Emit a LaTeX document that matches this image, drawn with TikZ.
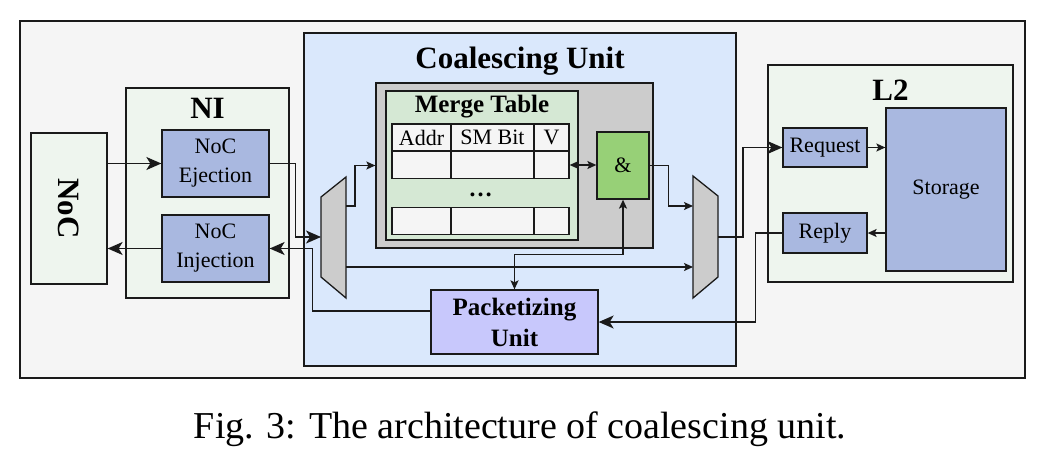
\documentclass[tikz,border=0pt]{standalone}
\usepackage{fontspec}
\setmainfont{Liberation Serif}
\usepackage{xcolor}
\usetikzlibrary{arrows.meta, positioning, shapes.geometric}

\definecolor{bgGray}{HTML}{F5F5F5}
\definecolor{coalBlue}{HTML}{DAE8FC}
\definecolor{grpGreen}{HTML}{EEF5EE}
\definecolor{blkBlue}{HTML}{A9B8E0}
\definecolor{tblGreen}{HTML}{D5E8D4}
\definecolor{ampGreen}{HTML}{97D077}
\definecolor{packViolet}{HTML}{C8C8FC}
\definecolor{muxGray}{HTML}{CCCCCC}
\definecolor{lineDark}{HTML}{1A1A1A}

\newcommand{\txtnorm}{\fontsize{22}{29}\selectfont}
\newcommand{\txttitle}{\fontsize{31}{36}\selectfont\bfseries}

\begin{document}
\begin{tikzpicture}[
    x=1pt, y=-1pt,
    frame/.style={rectangle, draw=lineDark, line width=1.3pt, inner sep=0pt},
    group/.style={frame, fill=grpGreen},
    block/.style={frame, fill=blkBlue, align=center, font=\txtnorm},
    cell/.style={frame, fill=bgGray, minimum height=27pt, font=\txtnorm},
    title/.style={font=\txttitle, inner sep=0pt},
    big/.style={-{Stealth[length=15pt,width=13pt,inset=4pt]}, line width=1.4pt, draw=lineDark},
    small/.style={-{Stealth[length=9pt,width=8pt,inset=2pt]}, line width=1.4pt, draw=lineDark},
    bismall/.style={{Stealth[length=9pt,width=8pt,inset=2pt]}-{Stealth[length=9pt,width=8pt,inset=2pt]}, line width=1.4pt, draw=lineDark}
]
\useasboundingbox (0,0) rectangle (1040,455);

% Frames
\node[frame, fill=bgGray, minimum width=1005, minimum height=357] (outer) at (522.5,199.5) {};
\node[frame, fill=coalBlue, minimum width=432, minimum height=333] (coal) at (520,199.5) {};
\node[group, minimum width=163, minimum height=210] (ni) at (207.5,193) {};
\node[group, minimum width=76, minimum height=151] (noc) at (69,208.5) {};
\node[group, minimum width=245, minimum height=217] (l2) at (890.5,173.5) {};

% Titles
\node[title] at (207.5,108) {NI};
\node[title] at (520,61) {Coalescing Unit};
\node[title] at (890.5,90) {L2};
\node[title, rotate=-90] at (noc) {NoC};

% NI blocks
\node[block, minimum width=107, minimum height=67] (ej) at (215.5,163.5) {NoC\\Ejection};
\node[block, minimum width=107, minimum height=67] (inj) at (215.5,248.5) {NoC\\Injection};

% Coalescing blocks
\node[frame, fill=muxGray, minimum width=277, minimum height=165] (gray) at (514.5,165.5) {};
\node[frame, fill=tblGreen, minimum width=192, minimum height=149] (mt) at (482,165.5) {};
\node[font=\fontsize{25}{30}\selectfont\bfseries, inner sep=0pt] at (482,107) {Merge Table};
\node[cell, minimum width=59] (h1) at (421.5,137.5) {Addr};
\node[cell, minimum width=83] (h2) at (492.5,137.5) {SM Bit};
\node[cell, minimum width=35] (h3) at (551.5,137.5) {V};
\foreach \r/\y in {1/165, 2/221} {
  \node[cell, minimum width=59] (r\r a) at (421.5,\y) {};
  \node[cell, minimum width=83] (r\r b) at (492.5,\y) {};
  \node[cell, minimum width=35] (r\r c) at (551.5,\y) {};
}
\node[font=\fontsize{24}{28}\selectfont\bfseries, anchor=base] (dots) at (480.5,196) {\dots};
\node[frame, fill=ampGreen, minimum width=52, minimum height=67, font=\txtnorm] (amp) at (623,165.5) {\&};
\node[frame, fill=packViolet, minimum width=167, minimum height=64, align=center,
      font=\fontsize{25}{31}\selectfont\bfseries] (pack) at (514.5,322) {Packetizing\\Unit};

% Demux and mux
\coordinate (dmxin) at (321,237);
\coordinate (dmxo1) at (346,206);
\coordinate (dmxo2) at (346,267);
\coordinate (muxi1) at (693,206);
\coordinate (muxi2) at (693,267);
\coordinate (muxo) at (718,237);
\draw[line width=1.3pt, draw=lineDark, fill=muxGray] (321,197) -- (346,177) -- (346,298) -- (321,277) -- cycle;
\draw[line width=1.3pt, draw=lineDark, fill=muxGray] (693,176) -- (718,196) -- (718,277) -- (693,298) -- cycle;

% L2 blocks
\node[block, minimum width=84, minimum height=39] (req) at (825,147.5) {Request};
\node[block, minimum width=84, minimum height=40] (rep) at (825,233) {Reply};
\node[block, minimum width=120, minimum height=163] (stor) at (946,189.5) {Storage};

% Connections
\draw[big] (noc.east |- ej.west) -- (ej.west);
\draw[big] (inj.west) -- (inj.west -| noc.east);
\draw[big] (ej.east) -- ++(26,0) |- (dmxin);
\draw[big] ([yshift=11pt]pack.west) -| ([xshift=43pt]inj.east) -- (inj.east);
\draw[small] (dmxo1) -- ++(9,0) |- (gray.west);
\draw[small] (dmxo2) -- (muxi2);
\draw[bismall] (r1c.east) -- (r1c.east -| amp.west);
\draw[small] (amp.east) -- ++(19,0) |- (muxi1);
\draw[bismall] (amp.south) -- ++(0,55) -| (pack.north);
\draw[big] (muxo) -- ++(25,0) |- (req.west);
\draw[small] (req.east) -- (req.east -| stor.west);
\draw[small] (stor.west |- rep.east) -- (rep.east);
\draw[big] (rep.west) -- ++(-27,0) |- (pack.east);

% Caption
\node[font=\fontsize{38}{44}\selectfont] (cap) at (520,429) {Fig. 3: The architecture of coalescing unit.};
\end{tikzpicture}
\end{document}
